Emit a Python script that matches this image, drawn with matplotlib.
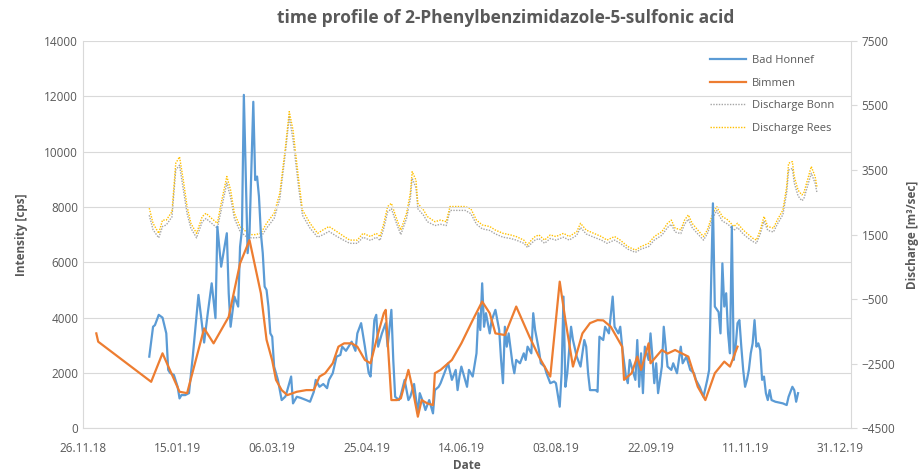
import matplotlib
matplotlib.use("Agg")
import matplotlib.pyplot as plt
import matplotlib.dates as mdates
import numpy as np
import pandas as pd

plt.rcParams['font.family'] = ['Open Sans', 'DejaVu Sans']

# days counted from 26.11.2018
start = pd.Timestamp('2018-11-26')

honnef_day = [35, 37, 38, 40, 42, 44, 45, 46, 48, 50, 51, 52, 54, 56, 58, 61, 64, 66, 68, 70,
              71, 73, 76, 77, 78, 80, 82, 83, 84, 85, 87, 88, 90, 91, 92, 93, 94, 95, 96, 97,
              98, 99, 100, 101, 103, 105, 107, 108, 110, 111, 113, 115, 118, 120, 122, 123, 125, 127, 129, 130,
              132, 134, 136, 137, 139, 142, 144, 145, 147, 149, 151, 152, 154, 155, 156, 158, 160, 161, 163, 164,
              165, 167, 168, 170, 172, 173, 175, 177, 178, 180, 181, 183, 185, 186, 188, 189, 191, 193, 195, 197,
              198, 199, 200, 201, 203, 204, 206, 208, 209, 210, 211, 212, 213, 215, 216, 218, 220, 221, 222, 223,
              224, 225, 227, 228, 229, 231, 233, 234, 235, 237, 238, 239, 241, 242, 244, 245, 247, 249, 250, 252,
              253, 254, 255, 256, 258, 259, 261, 263, 265, 266, 267, 268, 269, 271, 272, 273, 275, 276, 278, 280,
              281, 283, 284, 285, 287, 288, 289, 290, 292, 293, 294, 295, 296, 297, 299, 300, 301, 302, 303, 304,
              306, 307, 308, 309, 311, 312, 314, 316, 317, 319, 321, 323, 324, 326, 328, 330, 331, 333, 334, 336,
              337, 338, 339, 340, 341, 342, 343, 344, 345, 346, 347, 348, 349, 350, 351, 352, 353, 354, 355, 356,
              357, 358, 359, 360, 361, 362, 363, 364, 366, 370, 372, 373, 375, 376, 377, 378]
honnef_cps = [2590, 3670, 3730, 4100, 4000, 3430, 2110, 2000, 1930, 1500, 1080, 1200, 1200, 1270, 2600, 4820, 3100, 4200, 5240, 3980,
              7290, 5840, 7050, 4880, 3670, 4760, 4400, 6560, 7170, 12050, 6330, 7050, 11800, 8970, 9100, 8370, 7050, 6330, 5120, 5000,
              4400, 3430, 3310, 2230, 1750, 1020, 1150, 1380, 1870, 900, 1140, 1100, 1020, 960, 1320, 1750, 1500, 1600, 1450, 1750,
              1990, 2590, 2650, 2950, 2800, 3130, 2800, 3430, 3800, 2950, 2000, 1870, 3910, 4100, 2950, 3430, 3800, 2950, 4280, 2470,
              1140, 1020, 1200, 1750, 1020, 1140, 1600, 540, 1270, 900, 660, 1020, 540, 1380, 1500, 1630, 1990, 2350, 1750, 2110,
              1380, 1870, 2230, 1990, 1500, 2110, 1870, 2710, 4160, 3550, 5240, 3670, 4160, 3430, 3900, 4280, 3550, 2470, 1630, 3670,
              2950, 3430, 2350, 1990, 2470, 2350, 2710, 2470, 2950, 2710, 4160, 3550, 2830, 2350, 2230, 1990, 1630, 1690, 1630, 780,
              1990, 4760, 1500, 1990, 3670, 3190, 2590, 2230, 3190, 2950, 1990, 1380, 1380, 1380, 1320, 3310, 3190, 3670, 3430, 4760,
              3670, 3430, 3670, 2950, 1870, 1630, 2470, 2230, 1750, 3190, 1500, 2710, 1270, 2950, 2470, 3430, 2590, 1630, 2350, 1270,
              2230, 3670, 2950, 2230, 2110, 2350, 1990, 2950, 2350, 2590, 2110, 1990, 1750, 1500, 1140, 1750, 2110, 8130, 4400, 4200,
              3430, 5960, 4400, 4880, 3430, 2710, 7290, 2470, 2950, 3800, 3910, 2950, 2110, 1500, 1750, 2110, 2710, 3070, 3910, 2950,
              3070, 2830, 1750, 1870, 1270, 1020, 1380, 1020, 960, 900, 840, 1140, 1500, 1380, 960, 1270]

bimmen_day = [7, 8, 36, 42, 51, 55, 64, 69, 77, 83, 88, 94, 97, 100, 102, 105, 108, 113, 118, 122,
              125, 128, 132, 135, 138, 142, 145, 149, 152, 156, 159, 160, 163, 166, 168, 172, 174, 177, 179, 182,
              185, 186, 189, 195, 200, 206, 211, 215, 218, 223, 229, 236, 241, 247, 252, 255, 259, 264, 268, 272,
              275, 279, 285, 286, 290, 293, 295, 299, 300, 306, 309, 313, 315, 320, 325, 329, 334, 339, 342, 344,
              346]
bimmen_cps = [3430, 3130, 1680, 2710, 1320, 1270, 3610, 3070, 4030, 5960, 6800, 4880, 3200, 2450, 1750, 1380, 1200, 1320, 1380, 1380,
              1870, 1990, 2350, 2950, 3070, 3070, 2950, 2470, 2350, 3430, 4160, 4280, 1020, 1020, 1080, 2110, 1500, 420, 1020, 900,
              840, 1990, 2110, 2470, 3070, 3910, 4580, 4160, 3430, 3370, 4400, 3310, 2590, 1870, 5300, 3910, 2230, 3430, 3800, 3910,
              3900, 3670, 2950, 1750, 1990, 2590, 2110, 3070, 2350, 2830, 2700, 2830, 2760, 2590, 1500, 1020, 1990, 2410, 2230, 2590,
              2950]

discharge_day = [35, 37, 40, 42, 44, 47, 49, 51, 53, 55, 57, 60, 63, 65, 68, 71, 73, 76, 78, 80,
                 83, 86, 88, 91, 94, 97, 101, 104, 107, 109, 111, 114, 116, 120, 124, 127, 130, 134, 138, 141,
                 145, 148, 152, 155, 157, 159, 161, 163, 166, 168, 171, 173, 174, 176, 177, 180, 182, 186, 189, 192,
                 194, 198, 202, 205, 208, 211, 215, 218, 222, 226, 229, 233, 235, 237, 239, 241, 244, 247, 250, 254,
                 257, 261, 263, 266, 270, 274, 277, 281, 284, 288, 292, 295, 299, 302, 306, 309, 311, 313, 316, 318,
                 320, 322, 325, 328, 330, 333, 335, 336, 338, 341, 344, 346, 349, 351, 354, 356, 358, 360, 362, 365,
                 367, 370, 372, 373, 375, 376, 378, 380, 381, 383, 385, 387, 388]
bonn_q = [2100, 1650, 1400, 1750, 1800, 2050, 3500, 3650, 2900, 2150, 1700, 1400, 1900, 2000, 1850, 1700, 2250, 3100, 2650, 2000,
          1600, 1450, 1400, 1400, 1420, 1700, 2000, 2600, 4050, 5150, 4450, 2950, 2100, 1700, 1420, 1500, 1600, 1450, 1320, 1230,
          1230, 1420, 1320, 1420, 1320, 1700, 2200, 2300, 1800, 1500, 2000, 2600, 3250, 2950, 2300, 2100, 1900, 1780, 1820, 1780,
          2250, 2250, 2250, 2150, 1820, 1680, 1630, 1520, 1420, 1380, 1330, 1230, 1100, 1230, 1330, 1380, 1230, 1380, 1330, 1420,
          1330, 1480, 1720, 1520, 1420, 1330, 1230, 1330, 1230, 1050, 950, 1050, 1130, 1330, 1480, 1720, 1820, 1580, 1530, 1820,
          1980, 1720, 1520, 1330, 1520, 2020, 2250, 2120, 1920, 1820, 1630, 1720, 1520, 1420, 1290, 1230, 1520, 1920, 1630, 1580,
          1820, 2120, 2800, 3500, 3550, 3100, 2700, 2550, 2600, 3000, 3400, 3100, 2800]
rees_q = [2320, 1850, 1540, 1950, 1950, 2210, 3710, 3910, 3190, 2370, 1850, 1540, 2060, 2160, 2000, 1850, 2470, 3300, 2880, 2160,
          1750, 1600, 1500, 1500, 1540, 1850, 2160, 2780, 4220, 5310, 4740, 3190, 2260, 1850, 1540, 1650, 1750, 1600, 1440, 1330,
          1330, 1540, 1440, 1540, 1440, 1850, 2370, 2470, 1950, 1640, 2160, 2780, 3450, 3190, 2470, 2260, 2060, 1900, 1950, 1900,
          2370, 2370, 2370, 2300, 1950, 1800, 1750, 1640, 1540, 1490, 1440, 1330, 1180, 1330, 1440, 1490, 1330, 1490, 1440, 1540,
          1440, 1590, 1850, 1640, 1540, 1440, 1330, 1440, 1330, 1130, 1020, 1130, 1230, 1440, 1590, 1850, 1950, 1700, 1650, 1950,
          2110, 1850, 1640, 1440, 1640, 2160, 2370, 2260, 2060, 1950, 1750, 1850, 1640, 1540, 1390, 1330, 1640, 2060, 1750, 1700,
          1950, 2260, 2990, 3710, 3760, 3300, 2880, 2730, 2780, 3190, 3610, 3300, 2990]


def to_dates(days):
    return start + pd.to_timedelta(days, unit='D')


grey = '#595959'
fig = plt.figure(figsize=(9.23, 4.72), dpi=100)
ax = fig.add_axes([0.09, 0.0926, 0.832, 0.8207])
ax2 = ax.twinx()

l1, = ax.plot(to_dates(honnef_day), honnef_cps, color='#5B9BD5', lw=1.6)
l2, = ax.plot(to_dates(bimmen_day), bimmen_cps, color='#ED7D31', lw=1.6)
l3, = ax2.plot(to_dates(discharge_day), bonn_q, color='#A5A5A5', lw=1.0, ls=(0, (1, 1)))
l4, = ax2.plot(to_dates(discharge_day), rees_q, color='#FFC000', lw=1.0, ls=(0, (1, 1)))

ax.set_zorder(ax2.get_zorder() + 1)
ax.patch.set_visible(False)

ax.set_ylim(0, 14000)
ax.set_yticks(np.arange(0, 14001, 2000))
ax2.set_ylim(-4500, 7500)
ax2.set_yticks(np.arange(-4500, 7501, 2000))
ax.set_xlim(start, start + pd.Timedelta(days=406))
ax.set_xticks([start + pd.Timedelta(days=50 * k) for k in range(9)])
ax.xaxis.set_major_formatter(mdates.DateFormatter('%d.%m.%y'))

ax.grid(axis='y', color='#D9D9D9', lw=0.8)
ax.set_axisbelow(True)
for a in (ax, ax2):
    for s in a.spines.values():
        s.set_visible(False)
    a.tick_params(colors=grey, labelsize=8.5, length=0)
ax.spines['bottom'].set_visible(True)
ax.spines['bottom'].set_color('#D9D9D9')
ax.spines['left'].set_visible(True)
ax.spines['left'].set_color('#D9D9D9')
ax2.spines['right'].set_visible(True)
ax2.spines['right'].set_color('#D9D9D9')
ax2.tick_params(axis='y', length=4, color='#D9D9D9')
ax.tick_params(axis='x', pad=10)

fig.text(0.548, 0.962, 'time profile of 2-Phenylbenzimidazole-5-sulfonic acid', color=grey,
         fontsize=12.5, fontweight='bold', ha='center', va='center')
ax.set_xlabel('Date', color=grey, fontsize=8.5, fontweight='bold', labelpad=3)
ax.set_ylabel('Intensity [cps]', color=grey, fontsize=8.5, fontweight='bold', labelpad=12)
ax2.set_ylabel('Discharge [m³/sec]', color=grey, fontsize=8.5, fontweight='bold', labelpad=8)

leg = fig.legend(handles=[l1, l2, l3, l4],
                 labels=['Bad Honnef', 'Bimmen', 'Discharge Bonn', 'Discharge Rees'],
                 loc='upper right', bbox_to_anchor=(0.915, 0.905), frameon=False,
                 fontsize=8, handlelength=3.2, labelspacing=1.05, handletextpad=0.6)
for t in leg.get_texts():
    t.set_color(grey)

fig.savefig('out.png', dpi=100)
